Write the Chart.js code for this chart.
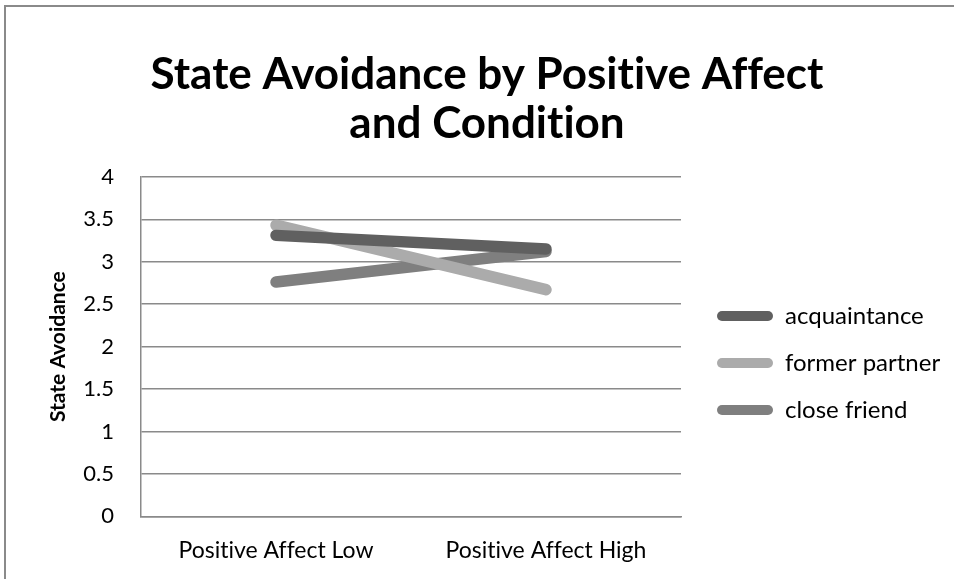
<!DOCTYPE html>
<html>
<head>
<meta charset="utf-8">
<script src="https://cdn.jsdelivr.net/npm/chart.js@4"></script>
<style>
  body { margin: 0; background: #fff; }
  #box {
    position: absolute; left: 4px; top: 5px;
    width: 948px; height: 572px;
    border-top: 2px solid #8a8a8a; border-left: 2px solid #8a8a8a;
  }
</style>
</head>
<body>
<div id="box"><canvas id="chart" width="948" height="572"></canvas></div>
<script>
var categories = ["Positive Affect Low", "Positive Affect High"];
var acquaintance = [3.31, 3.15];
var formerPartner = [3.43, 2.67];
var closeFriend = [2.76, 3.12];
var yTicks = [0, 0.5, 1, 1.5, 2, 2.5, 3, 3.5, 4];

var font = "Lato, 'Open Sans', sans-serif";

function series(label, values, color) {
    return {
        label: label,
        data: values,
        borderColor: color,
        backgroundColor: color,
        borderWidth: 11.5,
        borderCapStyle: "round",
        pointRadius: 0,
        tension: 0
    };
}

// no ligatures (Lato joins "ti")
var plainText = {
    id: "plainText",
    beforeDraw: function(c) { c.ctx.textRendering = "optimizeSpeed"; }
};

// put the legend beside the plot and centre the title the way Excel does
var placeBoxes = {
    id: "placeBoxes",
    afterLayout: function(c) {
        var lg = c.legend;
        lg.left = c.chartArea.right + 13;
        lg.right = c.width;
        lg.width = lg.right - lg.left;
        lg.top = 274;
        lg.bottom = c.height;
        lg.height = lg.bottom - lg.top;
        var tb = c.titleBlock;
        tb.left = 14;
        tb.right = c.width;
        tb.width = tb.right - tb.left;
    }
};

var ctx = document.getElementById("chart").getContext("2d");

var chart = new Chart(ctx, {
    type: "line",
    data: {
        labels: categories,
        datasets: [
            series("acquaintance", acquaintance, "#606060"),
            series("former partner", formerPartner, "#ababab"),
            series("close friend", closeFriend, "#7f7f7f")
        ]
    },
    plugins: [plainText, placeBoxes],
    options: {
        responsive: false,
        animation: false,
        layout: { padding: { left: 40, right: 273, top: 20, bottom: -5 } },
        plugins: {
            title: {
                display: true,
                text: ["State Avoidance by Positive Affect", "and Condition"],
                color: "#000",
                font: { family: font, size: 44, weight: "bold", lineHeight: 1.1 },
                padding: { top: 24, bottom: 29 }
            },
            legend: {
                position: "chartArea",
                align: "start",
                labels: {
                    color: "#000",
                    font: { family: font, size: 24 },
                    boxWidth: 56,
                    boxHeight: 10,
                    padding: 23,
                    useBorderRadius: true,
                    borderRadius: 5,
                    generateLabels: function(c) {
                        return c.data.datasets.map(function(ds, i) {
                            return {
                                text: ds.label,
                                fillStyle: ds.borderColor,
                                strokeStyle: ds.borderColor,
                                lineWidth: 0,
                                borderRadius: 5,
                                fontColor: "#000",
                                datasetIndex: i
                            };
                        });
                    }
                }
            },
            tooltip: { enabled: false }
        },
        scales: {
            x: {
                offset: true,
                grid: { display: false, drawTicks: false },
                border: { display: true, color: "#8a8a8a", width: 1.5 },
                ticks: { color: "#000", font: { family: font, size: 23 }, padding: 20 }
            },
            y: {
                min: 0,
                max: 4,
                afterBuildTicks: function(axis) {
                    axis.ticks = yTicks.map(function(v) { return { value: v }; });
                },
                afterFit: function(axis) { axis.width = 95; },
                grid: { color: "#8a8a8a", lineWidth: 1.5, drawTicks: false },
                border: { display: true, color: "#8a8a8a", width: 1.5 },
                ticks: {
                    color: "#000",
                    font: { family: font, size: 22 },
                    padding: 27,
                    callback: function(v) { return String(v); }
                },
                title: {
                    display: true,
                    text: "State Avoidance",
                    color: "#000",
                    font: { family: font, size: 21, weight: "bold" },
                    padding: { top: 0, bottom: 0 }
                }
            }
        }
    }
});
</script>
</body>
</html>
